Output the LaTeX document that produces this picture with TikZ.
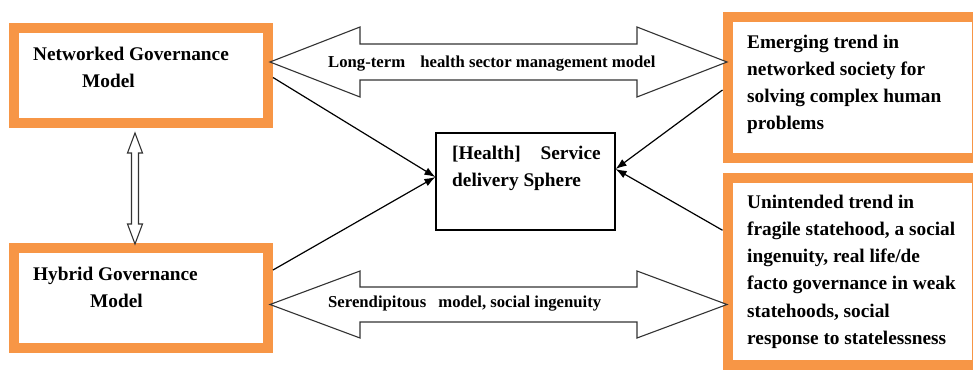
\documentclass[tikz,border=0pt]{standalone}
\usepackage{fontspec}
\setmainfont{Liberation Serif}
\usetikzlibrary{arrows.meta}
\definecolor{boxorange}{RGB}{247,150,70}
\begin{document}
\begin{tikzpicture}[x=1pt,y=-1pt,
  obox/.style={draw=boxorange, line width=10pt, rectangle, inner sep=0pt, fill=white},
  cbox/.style={draw=black, line width=1.2pt, rectangle, inner sep=0pt, fill=white},
  lbl/.style={anchor=base west, inner sep=0pt, font=\bfseries\fontsize{19.3}{27.3}\selectfont},
  albl/.style={anchor=base west, inner sep=0pt, font=\bfseries\fontsize{16.7}{20}\selectfont},
  conn/.style={line width=1.2pt, -{Latex[length=11pt,width=8pt]}},
  blockarrow/.style={draw=black!80, line width=1.1pt, fill=white, line join=miter}]
\useasboundingbox[fill=white] (0,0) rectangle (973,372);
\clip (0,0) rectangle (973,372);
% boxes
\node[obox, minimum width=254pt, minimum height=95pt] (nw) at (141,75.5) {};
\node[obox, minimum width=254pt, minimum height=100pt] (hy) at (141,298) {};
\node[obox, minimum width=249.5pt, minimum height=141pt] (em) at (852.25,87) {};
\node[obox, minimum width=249.5pt, minimum height=187.5pt] (un) at (852.25,271.25) {};
\node[cbox, minimum width=179pt, minimum height=97pt] (sd) at (525.5,181.5) {};
% texts
\node[lbl] (nwt) at (33,60) {\parbox[t]{240pt}{Networked Governance\\\hspace*{49pt}Model}};
\node[lbl] (hyt) at (33,280) {\parbox[t]{240pt}{Hybrid Governance\\\hspace*{57pt}Model}};
\node[lbl] (sdt) at (452,159) {\parbox[t]{170pt}{[Health]\hspace{15pt} Service\\delivery Sphere}};
\node[lbl] (emt) at (747,48) {\parbox[t]{230pt}{Emerging trend in\\networked society for\\solving complex human\\problems}};
\node[lbl] (unt) at (747,208) {\parbox[t]{230pt}{Unintended trend in\\fragile statehood, a social\\ingenuity, real life/de\\facto governance in weak\\statehoods, social\\response to statelessness}};
% block double arrows
\draw[blockarrow] (270,62) -- (360,27) -- (360,44) -- (637,44) -- (637,27) -- (727,62)
  -- (637,97) -- (637,80) -- (360,80) -- (360,97) -- cycle;
\draw[blockarrow] (270,304.5) -- (360,271) -- (360,287) -- (637,287) -- (637,271) -- (727,304.5)
  -- (637,338) -- (637,322) -- (360,322) -- (360,338) -- cycle;
\draw[blockarrow] (135,133) -- (142.5,153) -- (138.5,153) -- (138.5,224) -- (142.5,224) -- (135,244)
  -- (127.5,224) -- (131.5,224) -- (131.5,153) -- (127.5,153) -- cycle;
\node[albl] (topl) at (328,67) {Long-term\hspace{11pt} health sector management model};
\node[albl] (botl) at (328,307) {Serendipitous\hspace{8pt} model, social ingenuity};
% connectors
\draw[conn] ([yshift=-2pt]nw.east) -- ([yshift=4.5pt]sd.west);
\draw[conn] ([yshift=28pt]hy.east) -- ([yshift=4.5pt]sd.west);
\draw[conn] ([yshift=-3pt]em.west) -- ([yshift=12.5pt]sd.east);
\draw[conn] ([yshift=41pt]un.west) -- ([yshift=12.5pt]sd.east);
\end{tikzpicture}
\end{document}
